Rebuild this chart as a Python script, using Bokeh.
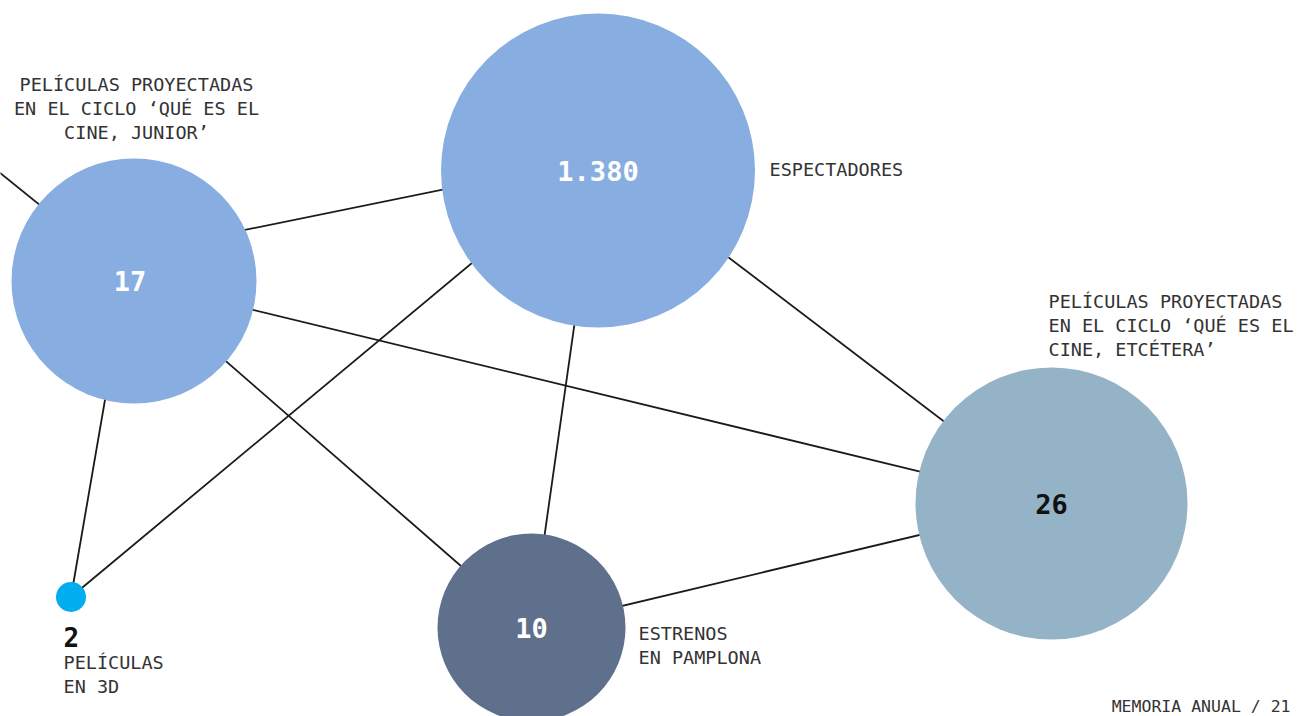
from bokeh.plotting import figure
from bokeh.models import Range1d, ColumnDataSource
from bokeh.core.properties import value
from bokeh.embed import file_html
from bokeh.resources import INLINE

# ---- data ----
node_ids = ["junior", "espectadores", "etcetera", "estrenos", "3d", "fuera"]
node_values = ["17", "1.380", "26", "10", "2", ""]
node_labels = [
    ["PELÍCULAS PROYECTADAS", "EN EL CICLO ‘QUÉ ES EL", "CINE, JUNIOR’"],
    ["ESPECTADORES"],
    ["PELÍCULAS PROYECTADAS", "EN EL CICLO ‘QUÉ ES EL", "CINE, ETCÉTERA’"],
    ["ESTRENOS", "EN PAMPLONA"],
    ["PELÍCULAS", "EN 3D"],
    [],
]
edges = [
    ("junior", "espectadores"), ("junior", "etcetera"), ("junior", "estrenos"),
    ("junior", "3d"), ("espectadores", "3d"), ("espectadores", "estrenos"),
    ("espectadores", "etcetera"), ("estrenos", "etcetera"), ("junior", "fuera"),
]
footer = "MEMORIA ANUAL / 21"

# ---- layout (screen pixel coordinates) ----
layout = {
    "junior":       dict(x=133.5, y=280.5, r=122.5, color="#88AEE1", vcolor="white", vdx=-4),
    "espectadores": dict(x=597.5, y=170.0, r=157.0, color="#88AEE1", vcolor="white", vdx=0),
    "etcetera":     dict(x=1051.0, y=503.0, r=136.0, color="#95B3C7", vcolor="#111111", vdx=0),
    "estrenos":     dict(x=531.0, y=627.0, r=94.0, color="#5E708C", vcolor="white", vdx=0),
    "3d":           dict(x=70.5, y=596.5, r=15.0, color="#00AEEF", vcolor="#111111", vdx=0),
    "fuera":        dict(x=-120.0, y=76.0, r=0.0, color="#FFFFFF", vcolor="white", vdx=0),
}
# where the connecting lines attach (default: the circle centre)
anchor = {"espectadores": (597.5, 157.5)}
edge_anchor = {("junior", "espectadores", "junior"): (133.5, 252.0),
               ("junior", "3d", "junior"): (125.0, 280.5)}

label_pos = {
    "junior":       dict(x=136, y=84, align="center"),
    "espectadores": dict(x=769, y=169, align="left"),
    "etcetera":     dict(x=1048, y=301, align="left"),
    "estrenos":     dict(x=638, y=633, align="left"),
    "3d":           dict(x=63, y=662, align="left"),
}
LINE_STEP = 24
FONT = value("DejaVu Sans Mono")

W, H = 1299, 716
p = figure(width=W, height=H, x_range=Range1d(0, W), y_range=Range1d(H, 0),
           output_backend="svg", toolbar_location=None, x_axis_type=None, y_axis_type=None,
           min_border=0)
p.outline_line_color = None
p.grid.visible = False
p.background_fill_color = "white"
p.border_fill_color = "white"


def attach(a, b, n):
    if (a, b, n) in edge_anchor:
        return edge_anchor[(a, b, n)]
    if n in anchor:
        return anchor[n]
    return (layout[n]["x"], layout[n]["y"])


# edges
xs, ys = [], []
for a, b in edges:
    pa, pb = attach(a, b, a), attach(a, b, b)
    xs.append([pa[0], pb[0]])
    ys.append([pa[1], pb[1]])
p.multi_line(xs=xs, ys=ys, line_color="#1a1a1a", line_width=1.8)

# nodes
vis = [n for n in node_ids if layout[n]["r"] > 0]
src = ColumnDataSource(dict(
    x=[layout[n]["x"] for n in vis], y=[layout[n]["y"] for n in vis],
    r=[layout[n]["r"] for n in vis], c=[layout[n]["color"] for n in vis]))
p.circle(x="x", y="y", radius="r", fill_color="c", line_color=None, source=src)

# values inside circles
vx, vy, vt, vc = [], [], [], []
for n, v in zip(node_ids, node_values):
    if not v or n == "3d":
        continue
    vx.append(layout[n]["x"] + layout[n]["vdx"]); vy.append(layout[n]["y"])
    vt.append(v); vc.append(layout[n]["vcolor"])
p.text(x=vx, y=vy, text=vt, text_color=vc, text_font=FONT, text_font_style="bold",
       text_font_size="27px", text_align="center", text_baseline="middle")

# 3D value above its label
i3 = node_ids.index("3d")
p.text(x=[label_pos["3d"]["x"]], y=[label_pos["3d"]["y"] - 26], text=[node_values[i3]],
       text_color="#111111", text_font=FONT, text_font_style="bold",
       text_font_size="26px", text_align="left", text_baseline="middle")

# labels
for n, lines in zip(node_ids, node_labels):
    if not lines:
        continue
    lp = label_pos[n]
    p.text(x=[lp["x"]] * len(lines), y=[lp["y"] + i * LINE_STEP for i in range(len(lines))],
           text=lines, text_color="#333333", text_font=FONT, text_font_size="18.5px",
           text_align=lp["align"], text_baseline="middle")

# footer
p.text(x=[1290], y=[715], text=[footer], text_color="#333333", text_font=FONT,
       text_font_size="16.5px", text_align="right", text_baseline="bottom")

open("out.html", "w").write(file_html(p, INLINE))
